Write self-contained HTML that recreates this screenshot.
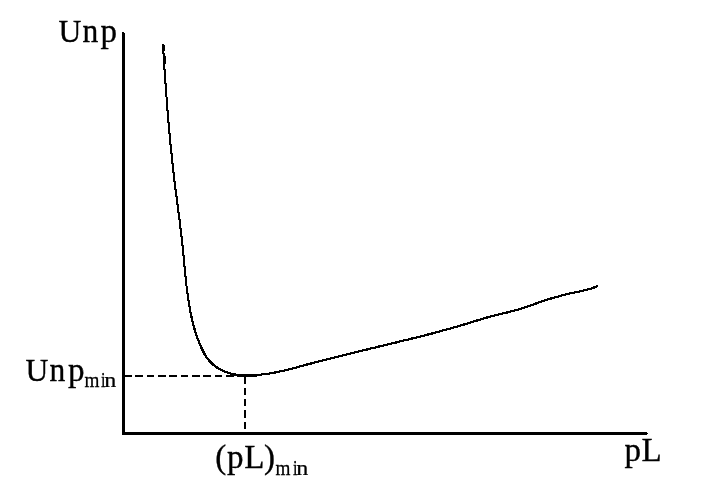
<!DOCTYPE html>
<html><head><meta charset="utf-8">
<style>
html,body{margin:0;padding:0;background:#fff;}
body{width:702px;height:497px;overflow:hidden;position:relative;}
svg{position:absolute;left:0;top:0;will-change:transform;}
text{font-family:"Liberation Serif",serif;fill:#000;stroke:#000;stroke-width:0.35px;}
text.s{stroke-width:0.25px;}
</style></head><body>
<svg width="702" height="497" viewBox="0 0 702 497">
<rect width="702" height="497" fill="#fff"/>
<!-- axes -->
<rect x="122" y="32" width="2" height="403" fill="#000"/><rect x="124" y="33" width="1" height="402" fill="#000"/>
<rect x="122" y="432" width="525" height="3" fill="#000"/><rect x="647" y="433" width="1" height="1" fill="#000"/>
<!-- dashed -->
<path d="M124 376 H257" fill="none" stroke="#000" stroke-width="2" stroke-dasharray="7.5 3.845" shape-rendering="crispEdges"/>
<path d="M245 376.3 V432" fill="none" stroke="#000" stroke-width="2" stroke-dasharray="7.5 3.8" shape-rendering="crispEdges"/>
<!-- curve -->
<path fill="none" stroke="#000" stroke-width="1" shape-rendering="crispEdges" transform="translate(-0.5 -0.5)" d="M162.9 45.0 L163.0 46.2 L163.1 47.4 L163.2 48.6 L163.2 49.8 L163.3 51.0 L163.4 52.2 L163.5 53.5 L163.6 54.7 L163.6 55.9 L163.7 57.1 L163.8 58.3 L163.9 59.5 L163.9 60.7 L164.0 61.9 L164.1 63.1 L164.2 64.3 L164.3 65.5 L164.3 66.8 L164.4 68.0 L164.5 69.2 L164.6 70.4 L164.7 71.6 L164.7 72.8 L164.8 74.0 L164.9 75.2 L165.0 76.4 L165.1 77.6 L165.2 78.8 L165.2 80.0 L165.3 81.2 L165.4 82.5 L165.5 83.7 L165.6 84.9 L165.7 86.1 L165.8 87.3 L165.8 88.5 L165.9 89.7 L166.0 90.9 L166.1 92.1 L166.2 93.3 L166.3 94.5 L166.4 95.7 L166.5 96.9 L166.6 98.2 L166.7 99.4 L166.8 100.6 L166.8 101.8 L166.9 103.0 L167.0 104.2 L167.1 105.4 L167.2 106.6 L167.3 107.8 L167.4 109.0 L167.5 110.2 L167.6 111.4 L167.7 112.6 L167.8 113.8 L167.9 115.0 L168.0 116.2 L168.1 117.5 L168.2 118.7 L168.3 119.9 L168.4 121.1 L168.5 122.3 L168.6 123.5 L168.7 124.7 L168.8 125.9 L168.9 127.1 L169.1 128.3 L169.2 129.5 L169.3 130.7 L169.4 131.9 L169.5 133.1 L169.6 134.3 L169.7 135.5 L169.8 136.7 L169.9 137.9 L170.0 139.1 L170.2 140.3 L170.3 141.6 L170.4 142.8 L170.5 144.0 L170.6 145.2 L170.7 146.4 L170.9 147.6 L171.0 148.8 L171.1 150.0 L171.2 151.2 L171.3 152.4 L171.5 153.6 L171.6 154.8 L171.7 156.0 L171.8 157.2 L172.0 158.4 L172.1 159.6 L172.2 160.8 L172.3 162.0 L172.5 163.2 L172.6 164.4 L172.7 165.6 L172.9 166.8 L173.0 168.0 L173.1 169.2 L173.3 170.4 L173.4 171.6 L173.6 172.8 L173.7 174.1 L173.8 175.2 L174.0 176.5 L174.1 177.7 L174.2 178.9 L174.4 180.1 L174.5 181.3 L174.7 182.5 L174.8 183.7 L175.0 184.9 L175.1 186.1 L175.3 187.3 L175.4 188.5 L175.6 189.7 L175.7 190.9 L175.9 192.1 L176.0 193.3 L176.2 194.5 L176.3 195.7 L176.5 196.9 L176.7 198.1 L176.8 199.3 L177.0 200.5 L177.1 201.7 L177.3 202.9 L177.4 204.1 L177.6 205.3 L177.8 206.5 L177.9 207.7 L178.1 208.9 L178.2 210.1 L178.4 211.3 L178.5 212.5 L178.7 213.7 L178.9 214.9 L179.0 216.1 L179.2 217.3 L179.3 218.5 L179.5 219.7 L179.6 220.9 L179.8 222.1 L179.9 223.3 L180.1 224.5 L180.2 225.7 L180.4 226.9 L180.5 228.1 L180.7 229.3 L180.8 230.5 L181.0 231.7 L181.1 232.9 L181.2 234.1 L181.4 235.3 L181.5 236.5 L181.7 237.7 L181.8 238.9 L181.9 240.1 L182.1 241.3 L182.2 242.6 L182.3 243.8 L182.4 244.9 L182.6 246.2 L182.7 247.4 L182.8 248.6 L182.9 249.8 L183.1 251.0 L183.2 252.2 L183.3 253.4 L183.4 254.6 L183.5 255.8 L183.6 257.0 L183.7 258.2 L183.8 259.4 L184.0 260.6 L184.1 261.8 L184.2 263.0 L184.3 264.2 L184.4 265.4 L184.5 266.6 L184.6 267.8 L184.8 269.0 L184.9 270.2 L185.0 271.4 L185.1 272.6 L185.2 273.8 L185.3 275.0 L185.4 276.2 L185.6 277.4 L185.7 278.6 L185.8 279.8 L186.0 281.0 L186.1 282.2 L186.2 283.4 L186.4 284.6 L186.5 285.9 L186.6 287.1 L186.8 288.2 L186.9 289.5 L187.1 290.7 L187.2 291.9 L187.4 293.1 L187.6 294.3 L187.7 295.5 L187.9 296.7 L188.1 297.9 L188.2 299.1 L188.4 300.3 L188.6 301.5 L188.8 302.7 L189.0 303.9 L189.2 305.1 L189.4 306.3 L189.6 307.5 L189.8 308.7 L190.0 309.9 L190.2 311.1 L190.5 312.2 L190.7 313.4 L191.0 314.6 L191.2 315.8 L191.5 317.0 L191.7 318.2 L192.0 319.4 L192.3 320.5 L192.6 321.7 L192.9 322.9 L193.2 324.1 L193.5 325.2 L193.8 326.4 L194.1 327.6 L194.4 328.7 L194.8 329.9 L195.1 331.1 L195.5 332.2 L195.9 333.4 L196.2 334.5 L196.6 335.6 L197.0 336.8 L197.4 337.9 L197.8 339.1 L198.3 340.2 L198.7 341.3 L199.1 342.4 L199.6 343.6 L200.1 344.7 L200.5 345.8 L201.0 346.9 L201.5 348.0 L202.0 349.1 L202.6 350.2 L203.1 351.2 L203.6 352.3 L204.2 353.4 L204.8 354.4 L205.4 355.4 L206.1 356.5 L206.7 357.5 L207.4 358.4 L208.2 359.4 L208.9 360.3 L209.7 361.2 L210.6 362.1 L211.4 363.0 L212.3 363.8 L213.2 364.6 L214.1 365.4 L215.1 366.1 L216.0 366.9 L217.0 367.5 L218.0 368.2 L219.1 368.8 L220.1 369.4 L221.2 370.0 L222.3 370.5 L223.4 371.1 L224.5 371.5 L225.6 372.0 L226.8 372.4 L227.9 372.8 L229.1 373.2 L230.2 373.5 L231.4 373.8 L232.6 374.1 L233.8 374.3 L235.0 374.5 L236.2 374.7 L237.3 374.9 L238.6 375.0 L239.7 375.1 L240.9 375.2 L242.2 375.3 L243.3 375.3 L244.6 375.4 L245.8 375.4 L247.0 375.4 L248.2 375.4 L249.4 375.3 L250.6 375.3 L251.8 375.2 L253.0 375.2 L254.2 375.1 L255.4 375.0 L256.6 374.9 L257.9 374.8 L259.1 374.7 L260.3 374.6 L261.5 374.5 L262.7 374.4 L263.9 374.2 L265.1 374.1 L266.3 373.9 L267.5 373.8 L268.7 373.6 L269.9 373.4 L271.1 373.2 L272.3 373.0 L273.4 372.8 L274.6 372.6 L275.8 372.3 L277.0 372.1 L278.2 371.9 L279.4 371.6 L280.6 371.4 L281.7 371.1 L282.9 370.8 L284.1 370.6 L285.3 370.3 L286.4 370.0 L287.6 369.7 L288.8 369.4 L290.0 369.1 L291.1 368.8 L292.3 368.5 L293.5 368.2 L294.6 367.9 L295.8 367.6 L297.0 367.2 L298.1 366.9 L299.3 366.6 L300.5 366.3 L301.7 366.0 L302.8 365.7 L304.0 365.4 L305.2 365.0 L306.3 364.7 L307.5 364.4 L308.7 364.1 L309.8 363.8 L311.0 363.5 L312.2 363.2 L313.4 362.9 L314.5 362.6 L315.7 362.2 L316.9 361.9 L318.0 361.6 L319.2 361.3 L320.4 361.0 L321.6 360.7 L322.7 360.4 L323.9 360.1 L325.1 359.8 L326.2 359.5 L327.4 359.2 L328.6 358.9 L329.8 358.6 L330.9 358.4 L332.1 358.1 L333.3 357.8 L334.5 357.5 L335.6 357.2 L336.8 356.9 L338.0 356.6 L339.1 356.3 L340.3 356.0 L341.5 355.7 L342.7 355.4 L343.9 355.1 L345.0 354.8 L346.2 354.5 L347.4 354.2 L348.6 354.0 L349.7 353.7 L350.9 353.4 L352.1 353.1 L353.2 352.8 L354.4 352.5 L355.6 352.2 L356.8 351.9 L358.0 351.7 L359.1 351.4 L360.3 351.1 L361.5 350.8 L362.7 350.5 L363.8 350.2 L365.0 349.9 L366.2 349.7 L367.4 349.4 L368.5 349.1 L369.7 348.8 L370.9 348.5 L372.1 348.2 L373.2 348.0 L374.4 347.7 L375.6 347.4 L376.8 347.1 L377.9 346.8 L379.1 346.5 L380.3 346.3 L381.5 346.0 L382.7 345.7 L383.8 345.4 L385.0 345.1 L386.2 344.8 L387.4 344.6 L388.5 344.3 L389.7 344.0 L390.9 343.7 L392.1 343.4 L393.2 343.1 L394.4 342.8 L395.6 342.6 L396.8 342.3 L397.9 342.0 L399.1 341.7 L400.3 341.4 L401.5 341.1 L402.7 340.8 L403.8 340.5 L405.0 340.3 L406.2 340.0 L407.4 339.7 L408.5 339.4 L409.7 339.1 L410.9 338.8 L412.1 338.5 L413.2 338.2 L414.4 337.9 L415.6 337.6 L416.8 337.4 L417.9 337.1 L419.1 336.8 L420.3 336.5 L421.5 336.2 L422.6 335.9 L423.8 335.6 L425.0 335.3 L426.1 335.0 L427.3 334.7 L428.5 334.4 L429.7 334.1 L430.8 333.8 L432.0 333.5 L433.2 333.1 L434.4 332.8 L435.5 332.5 L436.7 332.2 L437.9 331.9 L439.0 331.6 L440.2 331.3 L441.4 331.0 L442.5 330.6 L443.7 330.3 L444.9 330.0 L446.0 329.7 L447.2 329.4 L448.4 329.1 L449.5 328.7 L450.7 328.4 L451.9 328.1 L453.0 327.7 L454.2 327.4 L455.4 327.1 L456.5 326.7 L457.7 326.4 L458.8 326.1 L460.0 325.7 L461.2 325.4 L462.3 325.0 L463.5 324.7 L464.6 324.3 L465.8 324.0 L467.0 323.6 L468.1 323.2 L469.3 322.9 L470.4 322.5 L471.6 322.2 L472.7 321.8 L473.9 321.4 L475.1 321.1 L476.2 320.7 L477.4 320.4 L478.5 320.0 L479.7 319.7 L480.8 319.3 L482.0 319.0 L483.1 318.6 L484.3 318.3 L485.5 317.9 L486.6 317.6 L487.8 317.3 L489.0 316.9 L490.1 316.6 L491.3 316.3 L492.5 316.0 L493.6 315.7 L494.8 315.4 L496.0 315.1 L497.2 314.8 L498.3 314.5 L499.5 314.2 L500.7 314.0 L501.9 313.7 L503.1 313.4 L504.2 313.1 L505.4 312.9 L506.6 312.6 L507.8 312.3 L508.9 312.0 L510.1 311.7 L511.3 311.4 L512.5 311.1 L513.6 310.8 L514.8 310.5 L516.0 310.2 L517.1 309.8 L518.3 309.5 L519.5 309.2 L520.6 308.8 L521.8 308.4 L522.9 308.1 L524.1 307.7 L525.2 307.3 L526.4 306.9 L527.5 306.5 L528.6 306.1 L529.8 305.7 L530.9 305.3 L532.1 304.9 L533.2 304.5 L534.4 304.1 L535.5 303.7 L536.6 303.3 L537.8 302.9 L538.9 302.5 L540.1 302.1 L541.2 301.7 L542.4 301.3 L543.5 300.9 L544.6 300.5 L545.8 300.1 L547.0 299.8 L548.1 299.4 L549.2 299.0 L550.4 298.7 L551.6 298.3 L552.7 298.0 L553.9 297.6 L555.0 297.3 L556.2 297.0 L557.4 296.7 L558.5 296.4 L559.7 296.0 L560.9 295.7 L562.1 295.4 L563.2 295.1 L564.4 294.8 L565.6 294.5 L566.8 294.3 L567.9 294.0 L569.1 293.7 L570.3 293.4 L571.5 293.2 L572.7 292.9 L573.9 292.6 L575.0 292.4 L576.2 292.1 L577.4 291.9 L578.6 291.6 L579.8 291.4 L581.0 291.1 L582.1 290.9 L583.3 290.6 L584.5 290.3 L585.7 290.0 L586.8 289.7 L588.0 289.4 L589.2 289.1 L590.3 288.7 L591.5 288.4 L592.6 288.0 L593.7 287.6 L594.9 287.1 L596.0 286.6 L597.1 286.1"/>
<path fill="none" stroke="#000" stroke-width="1" shape-rendering="crispEdges" transform="translate(0.5 -0.5)" d="M162.9 45.0 L163.0 46.2 L163.1 47.4 L163.2 48.6 L163.2 49.8 L163.3 51.0 L163.4 52.2 L163.5 53.5 L163.6 54.7 L163.6 55.9 L163.7 57.1 L163.8 58.3 L163.9 59.5 L163.9 60.7 L164.0 61.9 L164.1 63.1 L164.2 64.3 L164.3 65.5 L164.3 66.8 L164.4 68.0 L164.5 69.2 L164.6 70.4 L164.7 71.6 L164.7 72.8 L164.8 74.0 L164.9 75.2 L165.0 76.4 L165.1 77.6 L165.2 78.8 L165.2 80.0 L165.3 81.2 L165.4 82.5 L165.5 83.7 L165.6 84.9 L165.7 86.1 L165.8 87.3 L165.8 88.5 L165.9 89.7 L166.0 90.9 L166.1 92.1 L166.2 93.3 L166.3 94.5 L166.4 95.7 L166.5 96.9 L166.6 98.2 L166.7 99.4 L166.8 100.6 L166.8 101.8 L166.9 103.0 L167.0 104.2 L167.1 105.4 L167.2 106.6 L167.3 107.8 L167.4 109.0 L167.5 110.2 L167.6 111.4 L167.7 112.6 L167.8 113.8 L167.9 115.0 L168.0 116.2 L168.1 117.5 L168.2 118.7 L168.3 119.9 L168.4 121.1 L168.5 122.3 L168.6 123.5 L168.7 124.7 L168.8 125.9 L168.9 127.1 L169.1 128.3 L169.2 129.5 L169.3 130.7 L169.4 131.9 L169.5 133.1 L169.6 134.3 L169.7 135.5 L169.8 136.7 L169.9 137.9 L170.0 139.1 L170.2 140.3 L170.3 141.6 L170.4 142.8 L170.5 144.0 L170.6 145.2 L170.7 146.4 L170.9 147.6 L171.0 148.8 L171.1 150.0 L171.2 151.2 L171.3 152.4 L171.5 153.6 L171.6 154.8 L171.7 156.0 L171.8 157.2 L172.0 158.4 L172.1 159.6 L172.2 160.8 L172.3 162.0 L172.5 163.2 L172.6 164.4 L172.7 165.6 L172.9 166.8 L173.0 168.0 L173.1 169.2 L173.3 170.4 L173.4 171.6 L173.6 172.8 L173.7 174.1 L173.8 175.2 L174.0 176.5 L174.1 177.7 L174.2 178.9 L174.4 180.1 L174.5 181.3 L174.7 182.5 L174.8 183.7 L175.0 184.9 L175.1 186.1 L175.3 187.3 L175.4 188.5 L175.6 189.7 L175.7 190.9 L175.9 192.1 L176.0 193.3 L176.2 194.5 L176.3 195.7 L176.5 196.9 L176.7 198.1 L176.8 199.3 L177.0 200.5 L177.1 201.7 L177.3 202.9 L177.4 204.1 L177.6 205.3 L177.8 206.5 L177.9 207.7 L178.1 208.9 L178.2 210.1 L178.4 211.3 L178.5 212.5 L178.7 213.7 L178.9 214.9 L179.0 216.1 L179.2 217.3 L179.3 218.5 L179.5 219.7 L179.6 220.9 L179.8 222.1 L179.9 223.3 L180.1 224.5 L180.2 225.7 L180.4 226.9 L180.5 228.1 L180.7 229.3 L180.8 230.5 L181.0 231.7 L181.1 232.9 L181.2 234.1 L181.4 235.3 L181.5 236.5 L181.7 237.7 L181.8 238.9 L181.9 240.1 L182.1 241.3 L182.2 242.6 L182.3 243.8 L182.4 244.9 L182.6 246.2 L182.7 247.4 L182.8 248.6 L182.9 249.8 L183.1 251.0 L183.2 252.2 L183.3 253.4 L183.4 254.6 L183.5 255.8 L183.6 257.0 L183.7 258.2 L183.8 259.4 L184.0 260.6 L184.1 261.8 L184.2 263.0 L184.3 264.2 L184.4 265.4 L184.5 266.6 L184.6 267.8 L184.8 269.0 L184.9 270.2 L185.0 271.4 L185.1 272.6 L185.2 273.8 L185.3 275.0 L185.4 276.2 L185.6 277.4 L185.7 278.6 L185.8 279.8 L186.0 281.0 L186.1 282.2 L186.2 283.4 L186.4 284.6 L186.5 285.9 L186.6 287.1 L186.8 288.2 L186.9 289.5 L187.1 290.7 L187.2 291.9 L187.4 293.1 L187.6 294.3 L187.7 295.5 L187.9 296.7 L188.1 297.9 L188.2 299.1 L188.4 300.3 L188.6 301.5 L188.8 302.7 L189.0 303.9 L189.2 305.1 L189.4 306.3 L189.6 307.5 L189.8 308.7 L190.0 309.9 L190.2 311.1 L190.5 312.2 L190.7 313.4 L191.0 314.6 L191.2 315.8 L191.5 317.0 L191.7 318.2 L192.0 319.4 L192.3 320.5 L192.6 321.7 L192.9 322.9 L193.2 324.1 L193.5 325.2 L193.8 326.4 L194.1 327.6 L194.4 328.7 L194.8 329.9 L195.1 331.1 L195.5 332.2 L195.9 333.4 L196.2 334.5 L196.6 335.6 L197.0 336.8 L197.4 337.9 L197.8 339.1 L198.3 340.2 L198.7 341.3 L199.1 342.4 L199.6 343.6 L200.1 344.7 L200.5 345.8 L201.0 346.9 L201.5 348.0 L202.0 349.1 L202.6 350.2 L203.1 351.2 L203.6 352.3 L204.2 353.4 L204.8 354.4 L205.4 355.4 L206.1 356.5 L206.7 357.5 L207.4 358.4 L208.2 359.4 L208.9 360.3 L209.7 361.2 L210.6 362.1 L211.4 363.0 L212.3 363.8 L213.2 364.6 L214.1 365.4 L215.1 366.1 L216.0 366.9 L217.0 367.5 L218.0 368.2 L219.1 368.8 L220.1 369.4 L221.2 370.0 L222.3 370.5 L223.4 371.1 L224.5 371.5 L225.6 372.0 L226.8 372.4 L227.9 372.8 L229.1 373.2 L230.2 373.5 L231.4 373.8 L232.6 374.1 L233.8 374.3 L235.0 374.5 L236.2 374.7 L237.3 374.9 L238.6 375.0 L239.7 375.1 L240.9 375.2 L242.2 375.3 L243.3 375.3 L244.6 375.4 L245.8 375.4 L247.0 375.4 L248.2 375.4 L249.4 375.3 L250.6 375.3 L251.8 375.2 L253.0 375.2 L254.2 375.1 L255.4 375.0 L256.6 374.9 L257.9 374.8 L259.1 374.7 L260.3 374.6 L261.5 374.5 L262.7 374.4 L263.9 374.2 L265.1 374.1 L266.3 373.9 L267.5 373.8 L268.7 373.6 L269.9 373.4 L271.1 373.2 L272.3 373.0 L273.4 372.8 L274.6 372.6 L275.8 372.3 L277.0 372.1 L278.2 371.9 L279.4 371.6 L280.6 371.4 L281.7 371.1 L282.9 370.8 L284.1 370.6 L285.3 370.3 L286.4 370.0 L287.6 369.7 L288.8 369.4 L290.0 369.1 L291.1 368.8 L292.3 368.5 L293.5 368.2 L294.6 367.9 L295.8 367.6 L297.0 367.2 L298.1 366.9 L299.3 366.6 L300.5 366.3 L301.7 366.0 L302.8 365.7 L304.0 365.4 L305.2 365.0 L306.3 364.7 L307.5 364.4 L308.7 364.1 L309.8 363.8 L311.0 363.5 L312.2 363.2 L313.4 362.9 L314.5 362.6 L315.7 362.2 L316.9 361.9 L318.0 361.6 L319.2 361.3 L320.4 361.0 L321.6 360.7 L322.7 360.4 L323.9 360.1 L325.1 359.8 L326.2 359.5 L327.4 359.2 L328.6 358.9 L329.8 358.6 L330.9 358.4 L332.1 358.1 L333.3 357.8 L334.5 357.5 L335.6 357.2 L336.8 356.9 L338.0 356.6 L339.1 356.3 L340.3 356.0 L341.5 355.7 L342.7 355.4 L343.9 355.1 L345.0 354.8 L346.2 354.5 L347.4 354.2 L348.6 354.0 L349.7 353.7 L350.9 353.4 L352.1 353.1 L353.2 352.8 L354.4 352.5 L355.6 352.2 L356.8 351.9 L358.0 351.7 L359.1 351.4 L360.3 351.1 L361.5 350.8 L362.7 350.5 L363.8 350.2 L365.0 349.9 L366.2 349.7 L367.4 349.4 L368.5 349.1 L369.7 348.8 L370.9 348.5 L372.1 348.2 L373.2 348.0 L374.4 347.7 L375.6 347.4 L376.8 347.1 L377.9 346.8 L379.1 346.5 L380.3 346.3 L381.5 346.0 L382.7 345.7 L383.8 345.4 L385.0 345.1 L386.2 344.8 L387.4 344.6 L388.5 344.3 L389.7 344.0 L390.9 343.7 L392.1 343.4 L393.2 343.1 L394.4 342.8 L395.6 342.6 L396.8 342.3 L397.9 342.0 L399.1 341.7 L400.3 341.4 L401.5 341.1 L402.7 340.8 L403.8 340.5 L405.0 340.3 L406.2 340.0 L407.4 339.7 L408.5 339.4 L409.7 339.1 L410.9 338.8 L412.1 338.5 L413.2 338.2 L414.4 337.9 L415.6 337.6 L416.8 337.4 L417.9 337.1 L419.1 336.8 L420.3 336.5 L421.5 336.2 L422.6 335.9 L423.8 335.6 L425.0 335.3 L426.1 335.0 L427.3 334.7 L428.5 334.4 L429.7 334.1 L430.8 333.8 L432.0 333.5 L433.2 333.1 L434.4 332.8 L435.5 332.5 L436.7 332.2 L437.9 331.9 L439.0 331.6 L440.2 331.3 L441.4 331.0 L442.5 330.6 L443.7 330.3 L444.9 330.0 L446.0 329.7 L447.2 329.4 L448.4 329.1 L449.5 328.7 L450.7 328.4 L451.9 328.1 L453.0 327.7 L454.2 327.4 L455.4 327.1 L456.5 326.7 L457.7 326.4 L458.8 326.1 L460.0 325.7 L461.2 325.4 L462.3 325.0 L463.5 324.7 L464.6 324.3 L465.8 324.0 L467.0 323.6 L468.1 323.2 L469.3 322.9 L470.4 322.5 L471.6 322.2 L472.7 321.8 L473.9 321.4 L475.1 321.1 L476.2 320.7 L477.4 320.4 L478.5 320.0 L479.7 319.7 L480.8 319.3 L482.0 319.0 L483.1 318.6 L484.3 318.3 L485.5 317.9 L486.6 317.6 L487.8 317.3 L489.0 316.9 L490.1 316.6 L491.3 316.3 L492.5 316.0 L493.6 315.7 L494.8 315.4 L496.0 315.1 L497.2 314.8 L498.3 314.5 L499.5 314.2 L500.7 314.0 L501.9 313.7 L503.1 313.4 L504.2 313.1 L505.4 312.9 L506.6 312.6 L507.8 312.3 L508.9 312.0 L510.1 311.7 L511.3 311.4 L512.5 311.1 L513.6 310.8 L514.8 310.5 L516.0 310.2 L517.1 309.8 L518.3 309.5 L519.5 309.2 L520.6 308.8 L521.8 308.4 L522.9 308.1 L524.1 307.7 L525.2 307.3 L526.4 306.9 L527.5 306.5 L528.6 306.1 L529.8 305.7 L530.9 305.3 L532.1 304.9 L533.2 304.5 L534.4 304.1 L535.5 303.7 L536.6 303.3 L537.8 302.9 L538.9 302.5 L540.1 302.1 L541.2 301.7 L542.4 301.3 L543.5 300.9 L544.6 300.5 L545.8 300.1 L547.0 299.8 L548.1 299.4 L549.2 299.0 L550.4 298.7 L551.6 298.3 L552.7 298.0 L553.9 297.6 L555.0 297.3 L556.2 297.0 L557.4 296.7 L558.5 296.4 L559.7 296.0 L560.9 295.7 L562.1 295.4 L563.2 295.1 L564.4 294.8 L565.6 294.5 L566.8 294.3 L567.9 294.0 L569.1 293.7 L570.3 293.4 L571.5 293.2 L572.7 292.9 L573.9 292.6 L575.0 292.4 L576.2 292.1 L577.4 291.9 L578.6 291.6 L579.8 291.4 L581.0 291.1 L582.1 290.9 L583.3 290.6 L584.5 290.3 L585.7 290.0 L586.8 289.7 L588.0 289.4 L589.2 289.1 L590.3 288.7 L591.5 288.4 L592.6 288.0 L593.7 287.6 L594.9 287.1 L596.0 286.6 L597.1 286.1"/>
<path fill="none" stroke="#000" stroke-width="1" shape-rendering="crispEdges" transform="translate(-0.5 0.5)" d="M162.9 45.0 L163.0 46.2 L163.1 47.4 L163.2 48.6 L163.2 49.8 L163.3 51.0 L163.4 52.2 L163.5 53.5 L163.6 54.7 L163.6 55.9 L163.7 57.1 L163.8 58.3 L163.9 59.5 L163.9 60.7 L164.0 61.9 L164.1 63.1 L164.2 64.3 L164.3 65.5 L164.3 66.8 L164.4 68.0 L164.5 69.2 L164.6 70.4 L164.7 71.6 L164.7 72.8 L164.8 74.0 L164.9 75.2 L165.0 76.4 L165.1 77.6 L165.2 78.8 L165.2 80.0 L165.3 81.2 L165.4 82.5 L165.5 83.7 L165.6 84.9 L165.7 86.1 L165.8 87.3 L165.8 88.5 L165.9 89.7 L166.0 90.9 L166.1 92.1 L166.2 93.3 L166.3 94.5 L166.4 95.7 L166.5 96.9 L166.6 98.2 L166.7 99.4 L166.8 100.6 L166.8 101.8 L166.9 103.0 L167.0 104.2 L167.1 105.4 L167.2 106.6 L167.3 107.8 L167.4 109.0 L167.5 110.2 L167.6 111.4 L167.7 112.6 L167.8 113.8 L167.9 115.0 L168.0 116.2 L168.1 117.5 L168.2 118.7 L168.3 119.9 L168.4 121.1 L168.5 122.3 L168.6 123.5 L168.7 124.7 L168.8 125.9 L168.9 127.1 L169.1 128.3 L169.2 129.5 L169.3 130.7 L169.4 131.9 L169.5 133.1 L169.6 134.3 L169.7 135.5 L169.8 136.7 L169.9 137.9 L170.0 139.1 L170.2 140.3 L170.3 141.6 L170.4 142.8 L170.5 144.0 L170.6 145.2 L170.7 146.4 L170.9 147.6 L171.0 148.8 L171.1 150.0 L171.2 151.2 L171.3 152.4 L171.5 153.6 L171.6 154.8 L171.7 156.0 L171.8 157.2 L172.0 158.4 L172.1 159.6 L172.2 160.8 L172.3 162.0 L172.5 163.2 L172.6 164.4 L172.7 165.6 L172.9 166.8 L173.0 168.0 L173.1 169.2 L173.3 170.4 L173.4 171.6 L173.6 172.8 L173.7 174.1 L173.8 175.2 L174.0 176.5 L174.1 177.7 L174.2 178.9 L174.4 180.1 L174.5 181.3 L174.7 182.5 L174.8 183.7 L175.0 184.9 L175.1 186.1 L175.3 187.3 L175.4 188.5 L175.6 189.7 L175.7 190.9 L175.9 192.1 L176.0 193.3 L176.2 194.5 L176.3 195.7 L176.5 196.9 L176.7 198.1 L176.8 199.3 L177.0 200.5 L177.1 201.7 L177.3 202.9 L177.4 204.1 L177.6 205.3 L177.8 206.5 L177.9 207.7 L178.1 208.9 L178.2 210.1 L178.4 211.3 L178.5 212.5 L178.7 213.7 L178.9 214.9 L179.0 216.1 L179.2 217.3 L179.3 218.5 L179.5 219.7 L179.6 220.9 L179.8 222.1 L179.9 223.3 L180.1 224.5 L180.2 225.7 L180.4 226.9 L180.5 228.1 L180.7 229.3 L180.8 230.5 L181.0 231.7 L181.1 232.9 L181.2 234.1 L181.4 235.3 L181.5 236.5 L181.7 237.7 L181.8 238.9 L181.9 240.1 L182.1 241.3 L182.2 242.6 L182.3 243.8 L182.4 244.9 L182.6 246.2 L182.7 247.4 L182.8 248.6 L182.9 249.8 L183.1 251.0 L183.2 252.2 L183.3 253.4 L183.4 254.6 L183.5 255.8 L183.6 257.0 L183.7 258.2 L183.8 259.4 L184.0 260.6 L184.1 261.8 L184.2 263.0 L184.3 264.2 L184.4 265.4 L184.5 266.6 L184.6 267.8 L184.8 269.0 L184.9 270.2 L185.0 271.4 L185.1 272.6 L185.2 273.8 L185.3 275.0 L185.4 276.2 L185.6 277.4 L185.7 278.6 L185.8 279.8 L186.0 281.0 L186.1 282.2 L186.2 283.4 L186.4 284.6 L186.5 285.9 L186.6 287.1 L186.8 288.2 L186.9 289.5 L187.1 290.7 L187.2 291.9 L187.4 293.1 L187.6 294.3 L187.7 295.5 L187.9 296.7 L188.1 297.9 L188.2 299.1 L188.4 300.3 L188.6 301.5 L188.8 302.7 L189.0 303.9 L189.2 305.1 L189.4 306.3 L189.6 307.5 L189.8 308.7 L190.0 309.9 L190.2 311.1 L190.5 312.2 L190.7 313.4 L191.0 314.6 L191.2 315.8 L191.5 317.0 L191.7 318.2 L192.0 319.4 L192.3 320.5 L192.6 321.7 L192.9 322.9 L193.2 324.1 L193.5 325.2 L193.8 326.4 L194.1 327.6 L194.4 328.7 L194.8 329.9 L195.1 331.1 L195.5 332.2 L195.9 333.4 L196.2 334.5 L196.6 335.6 L197.0 336.8 L197.4 337.9 L197.8 339.1 L198.3 340.2 L198.7 341.3 L199.1 342.4 L199.6 343.6 L200.1 344.7 L200.5 345.8 L201.0 346.9 L201.5 348.0 L202.0 349.1 L202.6 350.2 L203.1 351.2 L203.6 352.3 L204.2 353.4 L204.8 354.4 L205.4 355.4 L206.1 356.5 L206.7 357.5 L207.4 358.4 L208.2 359.4 L208.9 360.3 L209.7 361.2 L210.6 362.1 L211.4 363.0 L212.3 363.8 L213.2 364.6 L214.1 365.4 L215.1 366.1 L216.0 366.9 L217.0 367.5 L218.0 368.2 L219.1 368.8 L220.1 369.4 L221.2 370.0 L222.3 370.5 L223.4 371.1 L224.5 371.5 L225.6 372.0 L226.8 372.4 L227.9 372.8 L229.1 373.2 L230.2 373.5 L231.4 373.8 L232.6 374.1 L233.8 374.3 L235.0 374.5 L236.2 374.7 L237.3 374.9 L238.6 375.0 L239.7 375.1 L240.9 375.2 L242.2 375.3 L243.3 375.3 L244.6 375.4 L245.8 375.4 L247.0 375.4 L248.2 375.4 L249.4 375.3 L250.6 375.3 L251.8 375.2 L253.0 375.2 L254.2 375.1 L255.4 375.0 L256.6 374.9 L257.9 374.8 L259.1 374.7 L260.3 374.6 L261.5 374.5 L262.7 374.4 L263.9 374.2 L265.1 374.1 L266.3 373.9 L267.5 373.8 L268.7 373.6 L269.9 373.4 L271.1 373.2 L272.3 373.0 L273.4 372.8 L274.6 372.6 L275.8 372.3 L277.0 372.1 L278.2 371.9 L279.4 371.6 L280.6 371.4 L281.7 371.1 L282.9 370.8 L284.1 370.6 L285.3 370.3 L286.4 370.0 L287.6 369.7 L288.8 369.4 L290.0 369.1 L291.1 368.8 L292.3 368.5 L293.5 368.2 L294.6 367.9 L295.8 367.6 L297.0 367.2 L298.1 366.9 L299.3 366.6 L300.5 366.3 L301.7 366.0 L302.8 365.7 L304.0 365.4 L305.2 365.0 L306.3 364.7 L307.5 364.4 L308.7 364.1 L309.8 363.8 L311.0 363.5 L312.2 363.2 L313.4 362.9 L314.5 362.6 L315.7 362.2 L316.9 361.9 L318.0 361.6 L319.2 361.3 L320.4 361.0 L321.6 360.7 L322.7 360.4 L323.9 360.1 L325.1 359.8 L326.2 359.5 L327.4 359.2 L328.6 358.9 L329.8 358.6 L330.9 358.4 L332.1 358.1 L333.3 357.8 L334.5 357.5 L335.6 357.2 L336.8 356.9 L338.0 356.6 L339.1 356.3 L340.3 356.0 L341.5 355.7 L342.7 355.4 L343.9 355.1 L345.0 354.8 L346.2 354.5 L347.4 354.2 L348.6 354.0 L349.7 353.7 L350.9 353.4 L352.1 353.1 L353.2 352.8 L354.4 352.5 L355.6 352.2 L356.8 351.9 L358.0 351.7 L359.1 351.4 L360.3 351.1 L361.5 350.8 L362.7 350.5 L363.8 350.2 L365.0 349.9 L366.2 349.7 L367.4 349.4 L368.5 349.1 L369.7 348.8 L370.9 348.5 L372.1 348.2 L373.2 348.0 L374.4 347.7 L375.6 347.4 L376.8 347.1 L377.9 346.8 L379.1 346.5 L380.3 346.3 L381.5 346.0 L382.7 345.7 L383.8 345.4 L385.0 345.1 L386.2 344.8 L387.4 344.6 L388.5 344.3 L389.7 344.0 L390.9 343.7 L392.1 343.4 L393.2 343.1 L394.4 342.8 L395.6 342.6 L396.8 342.3 L397.9 342.0 L399.1 341.7 L400.3 341.4 L401.5 341.1 L402.7 340.8 L403.8 340.5 L405.0 340.3 L406.2 340.0 L407.4 339.7 L408.5 339.4 L409.7 339.1 L410.9 338.8 L412.1 338.5 L413.2 338.2 L414.4 337.9 L415.6 337.6 L416.8 337.4 L417.9 337.1 L419.1 336.8 L420.3 336.5 L421.5 336.2 L422.6 335.9 L423.8 335.6 L425.0 335.3 L426.1 335.0 L427.3 334.7 L428.5 334.4 L429.7 334.1 L430.8 333.8 L432.0 333.5 L433.2 333.1 L434.4 332.8 L435.5 332.5 L436.7 332.2 L437.9 331.9 L439.0 331.6 L440.2 331.3 L441.4 331.0 L442.5 330.6 L443.7 330.3 L444.9 330.0 L446.0 329.7 L447.2 329.4 L448.4 329.1 L449.5 328.7 L450.7 328.4 L451.9 328.1 L453.0 327.7 L454.2 327.4 L455.4 327.1 L456.5 326.7 L457.7 326.4 L458.8 326.1 L460.0 325.7 L461.2 325.4 L462.3 325.0 L463.5 324.7 L464.6 324.3 L465.8 324.0 L467.0 323.6 L468.1 323.2 L469.3 322.9 L470.4 322.5 L471.6 322.2 L472.7 321.8 L473.9 321.4 L475.1 321.1 L476.2 320.7 L477.4 320.4 L478.5 320.0 L479.7 319.7 L480.8 319.3 L482.0 319.0 L483.1 318.6 L484.3 318.3 L485.5 317.9 L486.6 317.6 L487.8 317.3 L489.0 316.9 L490.1 316.6 L491.3 316.3 L492.5 316.0 L493.6 315.7 L494.8 315.4 L496.0 315.1 L497.2 314.8 L498.3 314.5 L499.5 314.2 L500.7 314.0 L501.9 313.7 L503.1 313.4 L504.2 313.1 L505.4 312.9 L506.6 312.6 L507.8 312.3 L508.9 312.0 L510.1 311.7 L511.3 311.4 L512.5 311.1 L513.6 310.8 L514.8 310.5 L516.0 310.2 L517.1 309.8 L518.3 309.5 L519.5 309.2 L520.6 308.8 L521.8 308.4 L522.9 308.1 L524.1 307.7 L525.2 307.3 L526.4 306.9 L527.5 306.5 L528.6 306.1 L529.8 305.7 L530.9 305.3 L532.1 304.9 L533.2 304.5 L534.4 304.1 L535.5 303.7 L536.6 303.3 L537.8 302.9 L538.9 302.5 L540.1 302.1 L541.2 301.7 L542.4 301.3 L543.5 300.9 L544.6 300.5 L545.8 300.1 L547.0 299.8 L548.1 299.4 L549.2 299.0 L550.4 298.7 L551.6 298.3 L552.7 298.0 L553.9 297.6 L555.0 297.3 L556.2 297.0 L557.4 296.7 L558.5 296.4 L559.7 296.0 L560.9 295.7 L562.1 295.4 L563.2 295.1 L564.4 294.8 L565.6 294.5 L566.8 294.3 L567.9 294.0 L569.1 293.7 L570.3 293.4 L571.5 293.2 L572.7 292.9 L573.9 292.6 L575.0 292.4 L576.2 292.1 L577.4 291.9 L578.6 291.6 L579.8 291.4 L581.0 291.1 L582.1 290.9 L583.3 290.6 L584.5 290.3 L585.7 290.0 L586.8 289.7 L588.0 289.4 L589.2 289.1 L590.3 288.7 L591.5 288.4 L592.6 288.0 L593.7 287.6 L594.9 287.1 L596.0 286.6 L597.1 286.1"/>
<path fill="none" stroke="#000" stroke-width="1" shape-rendering="crispEdges" transform="translate(0.5 0.5)" d="M162.9 45.0 L163.0 46.2 L163.1 47.4 L163.2 48.6 L163.2 49.8 L163.3 51.0 L163.4 52.2 L163.5 53.5 L163.6 54.7 L163.6 55.9 L163.7 57.1 L163.8 58.3 L163.9 59.5 L163.9 60.7 L164.0 61.9 L164.1 63.1 L164.2 64.3 L164.3 65.5 L164.3 66.8 L164.4 68.0 L164.5 69.2 L164.6 70.4 L164.7 71.6 L164.7 72.8 L164.8 74.0 L164.9 75.2 L165.0 76.4 L165.1 77.6 L165.2 78.8 L165.2 80.0 L165.3 81.2 L165.4 82.5 L165.5 83.7 L165.6 84.9 L165.7 86.1 L165.8 87.3 L165.8 88.5 L165.9 89.7 L166.0 90.9 L166.1 92.1 L166.2 93.3 L166.3 94.5 L166.4 95.7 L166.5 96.9 L166.6 98.2 L166.7 99.4 L166.8 100.6 L166.8 101.8 L166.9 103.0 L167.0 104.2 L167.1 105.4 L167.2 106.6 L167.3 107.8 L167.4 109.0 L167.5 110.2 L167.6 111.4 L167.7 112.6 L167.8 113.8 L167.9 115.0 L168.0 116.2 L168.1 117.5 L168.2 118.7 L168.3 119.9 L168.4 121.1 L168.5 122.3 L168.6 123.5 L168.7 124.7 L168.8 125.9 L168.9 127.1 L169.1 128.3 L169.2 129.5 L169.3 130.7 L169.4 131.9 L169.5 133.1 L169.6 134.3 L169.7 135.5 L169.8 136.7 L169.9 137.9 L170.0 139.1 L170.2 140.3 L170.3 141.6 L170.4 142.8 L170.5 144.0 L170.6 145.2 L170.7 146.4 L170.9 147.6 L171.0 148.8 L171.1 150.0 L171.2 151.2 L171.3 152.4 L171.5 153.6 L171.6 154.8 L171.7 156.0 L171.8 157.2 L172.0 158.4 L172.1 159.6 L172.2 160.8 L172.3 162.0 L172.5 163.2 L172.6 164.4 L172.7 165.6 L172.9 166.8 L173.0 168.0 L173.1 169.2 L173.3 170.4 L173.4 171.6 L173.6 172.8 L173.7 174.1 L173.8 175.2 L174.0 176.5 L174.1 177.7 L174.2 178.9 L174.4 180.1 L174.5 181.3 L174.7 182.5 L174.8 183.7 L175.0 184.9 L175.1 186.1 L175.3 187.3 L175.4 188.5 L175.6 189.7 L175.7 190.9 L175.9 192.1 L176.0 193.3 L176.2 194.5 L176.3 195.7 L176.5 196.9 L176.7 198.1 L176.8 199.3 L177.0 200.5 L177.1 201.7 L177.3 202.9 L177.4 204.1 L177.6 205.3 L177.8 206.5 L177.9 207.7 L178.1 208.9 L178.2 210.1 L178.4 211.3 L178.5 212.5 L178.7 213.7 L178.9 214.9 L179.0 216.1 L179.2 217.3 L179.3 218.5 L179.5 219.7 L179.6 220.9 L179.8 222.1 L179.9 223.3 L180.1 224.5 L180.2 225.7 L180.4 226.9 L180.5 228.1 L180.7 229.3 L180.8 230.5 L181.0 231.7 L181.1 232.9 L181.2 234.1 L181.4 235.3 L181.5 236.5 L181.7 237.7 L181.8 238.9 L181.9 240.1 L182.1 241.3 L182.2 242.6 L182.3 243.8 L182.4 244.9 L182.6 246.2 L182.7 247.4 L182.8 248.6 L182.9 249.8 L183.1 251.0 L183.2 252.2 L183.3 253.4 L183.4 254.6 L183.5 255.8 L183.6 257.0 L183.7 258.2 L183.8 259.4 L184.0 260.6 L184.1 261.8 L184.2 263.0 L184.3 264.2 L184.4 265.4 L184.5 266.6 L184.6 267.8 L184.8 269.0 L184.9 270.2 L185.0 271.4 L185.1 272.6 L185.2 273.8 L185.3 275.0 L185.4 276.2 L185.6 277.4 L185.7 278.6 L185.8 279.8 L186.0 281.0 L186.1 282.2 L186.2 283.4 L186.4 284.6 L186.5 285.9 L186.6 287.1 L186.8 288.2 L186.9 289.5 L187.1 290.7 L187.2 291.9 L187.4 293.1 L187.6 294.3 L187.7 295.5 L187.9 296.7 L188.1 297.9 L188.2 299.1 L188.4 300.3 L188.6 301.5 L188.8 302.7 L189.0 303.9 L189.2 305.1 L189.4 306.3 L189.6 307.5 L189.8 308.7 L190.0 309.9 L190.2 311.1 L190.5 312.2 L190.7 313.4 L191.0 314.6 L191.2 315.8 L191.5 317.0 L191.7 318.2 L192.0 319.4 L192.3 320.5 L192.6 321.7 L192.9 322.9 L193.2 324.1 L193.5 325.2 L193.8 326.4 L194.1 327.6 L194.4 328.7 L194.8 329.9 L195.1 331.1 L195.5 332.2 L195.9 333.4 L196.2 334.5 L196.6 335.6 L197.0 336.8 L197.4 337.9 L197.8 339.1 L198.3 340.2 L198.7 341.3 L199.1 342.4 L199.6 343.6 L200.1 344.7 L200.5 345.8 L201.0 346.9 L201.5 348.0 L202.0 349.1 L202.6 350.2 L203.1 351.2 L203.6 352.3 L204.2 353.4 L204.8 354.4 L205.4 355.4 L206.1 356.5 L206.7 357.5 L207.4 358.4 L208.2 359.4 L208.9 360.3 L209.7 361.2 L210.6 362.1 L211.4 363.0 L212.3 363.8 L213.2 364.6 L214.1 365.4 L215.1 366.1 L216.0 366.9 L217.0 367.5 L218.0 368.2 L219.1 368.8 L220.1 369.4 L221.2 370.0 L222.3 370.5 L223.4 371.1 L224.5 371.5 L225.6 372.0 L226.8 372.4 L227.9 372.8 L229.1 373.2 L230.2 373.5 L231.4 373.8 L232.6 374.1 L233.8 374.3 L235.0 374.5 L236.2 374.7 L237.3 374.9 L238.6 375.0 L239.7 375.1 L240.9 375.2 L242.2 375.3 L243.3 375.3 L244.6 375.4 L245.8 375.4 L247.0 375.4 L248.2 375.4 L249.4 375.3 L250.6 375.3 L251.8 375.2 L253.0 375.2 L254.2 375.1 L255.4 375.0 L256.6 374.9 L257.9 374.8 L259.1 374.7 L260.3 374.6 L261.5 374.5 L262.7 374.4 L263.9 374.2 L265.1 374.1 L266.3 373.9 L267.5 373.8 L268.7 373.6 L269.9 373.4 L271.1 373.2 L272.3 373.0 L273.4 372.8 L274.6 372.6 L275.8 372.3 L277.0 372.1 L278.2 371.9 L279.4 371.6 L280.6 371.4 L281.7 371.1 L282.9 370.8 L284.1 370.6 L285.3 370.3 L286.4 370.0 L287.6 369.7 L288.8 369.4 L290.0 369.1 L291.1 368.8 L292.3 368.5 L293.5 368.2 L294.6 367.9 L295.8 367.6 L297.0 367.2 L298.1 366.9 L299.3 366.6 L300.5 366.3 L301.7 366.0 L302.8 365.7 L304.0 365.4 L305.2 365.0 L306.3 364.7 L307.5 364.4 L308.7 364.1 L309.8 363.8 L311.0 363.5 L312.2 363.2 L313.4 362.9 L314.5 362.6 L315.7 362.2 L316.9 361.9 L318.0 361.6 L319.2 361.3 L320.4 361.0 L321.6 360.7 L322.7 360.4 L323.9 360.1 L325.1 359.8 L326.2 359.5 L327.4 359.2 L328.6 358.9 L329.8 358.6 L330.9 358.4 L332.1 358.1 L333.3 357.8 L334.5 357.5 L335.6 357.2 L336.8 356.9 L338.0 356.6 L339.1 356.3 L340.3 356.0 L341.5 355.7 L342.7 355.4 L343.9 355.1 L345.0 354.8 L346.2 354.5 L347.4 354.2 L348.6 354.0 L349.7 353.7 L350.9 353.4 L352.1 353.1 L353.2 352.8 L354.4 352.5 L355.6 352.2 L356.8 351.9 L358.0 351.7 L359.1 351.4 L360.3 351.1 L361.5 350.8 L362.7 350.5 L363.8 350.2 L365.0 349.9 L366.2 349.7 L367.4 349.4 L368.5 349.1 L369.7 348.8 L370.9 348.5 L372.1 348.2 L373.2 348.0 L374.4 347.7 L375.6 347.4 L376.8 347.1 L377.9 346.8 L379.1 346.5 L380.3 346.3 L381.5 346.0 L382.7 345.7 L383.8 345.4 L385.0 345.1 L386.2 344.8 L387.4 344.6 L388.5 344.3 L389.7 344.0 L390.9 343.7 L392.1 343.4 L393.2 343.1 L394.4 342.8 L395.6 342.6 L396.8 342.3 L397.9 342.0 L399.1 341.7 L400.3 341.4 L401.5 341.1 L402.7 340.8 L403.8 340.5 L405.0 340.3 L406.2 340.0 L407.4 339.7 L408.5 339.4 L409.7 339.1 L410.9 338.8 L412.1 338.5 L413.2 338.2 L414.4 337.9 L415.6 337.6 L416.8 337.4 L417.9 337.1 L419.1 336.8 L420.3 336.5 L421.5 336.2 L422.6 335.9 L423.8 335.6 L425.0 335.3 L426.1 335.0 L427.3 334.7 L428.5 334.4 L429.7 334.1 L430.8 333.8 L432.0 333.5 L433.2 333.1 L434.4 332.8 L435.5 332.5 L436.7 332.2 L437.9 331.9 L439.0 331.6 L440.2 331.3 L441.4 331.0 L442.5 330.6 L443.7 330.3 L444.9 330.0 L446.0 329.7 L447.2 329.4 L448.4 329.1 L449.5 328.7 L450.7 328.4 L451.9 328.1 L453.0 327.7 L454.2 327.4 L455.4 327.1 L456.5 326.7 L457.7 326.4 L458.8 326.1 L460.0 325.7 L461.2 325.4 L462.3 325.0 L463.5 324.7 L464.6 324.3 L465.8 324.0 L467.0 323.6 L468.1 323.2 L469.3 322.9 L470.4 322.5 L471.6 322.2 L472.7 321.8 L473.9 321.4 L475.1 321.1 L476.2 320.7 L477.4 320.4 L478.5 320.0 L479.7 319.7 L480.8 319.3 L482.0 319.0 L483.1 318.6 L484.3 318.3 L485.5 317.9 L486.6 317.6 L487.8 317.3 L489.0 316.9 L490.1 316.6 L491.3 316.3 L492.5 316.0 L493.6 315.7 L494.8 315.4 L496.0 315.1 L497.2 314.8 L498.3 314.5 L499.5 314.2 L500.7 314.0 L501.9 313.7 L503.1 313.4 L504.2 313.1 L505.4 312.9 L506.6 312.6 L507.8 312.3 L508.9 312.0 L510.1 311.7 L511.3 311.4 L512.5 311.1 L513.6 310.8 L514.8 310.5 L516.0 310.2 L517.1 309.8 L518.3 309.5 L519.5 309.2 L520.6 308.8 L521.8 308.4 L522.9 308.1 L524.1 307.7 L525.2 307.3 L526.4 306.9 L527.5 306.5 L528.6 306.1 L529.8 305.7 L530.9 305.3 L532.1 304.9 L533.2 304.5 L534.4 304.1 L535.5 303.7 L536.6 303.3 L537.8 302.9 L538.9 302.5 L540.1 302.1 L541.2 301.7 L542.4 301.3 L543.5 300.9 L544.6 300.5 L545.8 300.1 L547.0 299.8 L548.1 299.4 L549.2 299.0 L550.4 298.7 L551.6 298.3 L552.7 298.0 L553.9 297.6 L555.0 297.3 L556.2 297.0 L557.4 296.7 L558.5 296.4 L559.7 296.0 L560.9 295.7 L562.1 295.4 L563.2 295.1 L564.4 294.8 L565.6 294.5 L566.8 294.3 L567.9 294.0 L569.1 293.7 L570.3 293.4 L571.5 293.2 L572.7 292.9 L573.9 292.6 L575.0 292.4 L576.2 292.1 L577.4 291.9 L578.6 291.6 L579.8 291.4 L581.0 291.1 L582.1 290.9 L583.3 290.6 L584.5 290.3 L585.7 290.0 L586.8 289.7 L588.0 289.4 L589.2 289.1 L590.3 288.7 L591.5 288.4 L592.6 288.0 L593.7 287.6 L594.9 287.1 L596.0 286.6 L597.1 286.1"/>
<g id="blob" fill="#000" shape-rendering="crispEdges"><rect x="164" y="45" width="1" height="6"/><rect x="238" y="376" width="19" height="1"/><rect x="165" y="56" width="1" height="8"/></g>
<!-- labels -->
<text font-size="33" transform="translate(58.5 42) scale(0.96 0.975)">U</text><text font-size="33" transform="translate(82.4 42) scale(0.955 1)">n</text><text font-size="33" x="100.6" y="42">p</text>
<text font-size="33" transform="translate(25.6 381) scale(0.96 0.975)">U</text><text font-size="33" transform="translate(49.4 381) scale(0.955 1)">n</text><text font-size="33" x="67.9" y="381">p</text>
<text class="s" font-size="20" transform="translate(84.50 386.70) scale(0.960 1)">m</text><text class="s" font-size="20" transform="translate(100.96 386.70) scale(0.800 1)">i</text><text class="s" font-size="20" transform="translate(104.35 386.70) scale(1.200 1)">n</text>
<text font-size="33" y="468"><tspan x="215.3">(</tspan><tspan x="226.9">p</tspan><tspan x="244.3">L</tspan><tspan x="264">)</tspan></text>
<text class="s" font-size="20" transform="translate(275.50 474.80) scale(0.960 1)">m</text><text class="s" font-size="20" transform="translate(292.96 474.80) scale(0.800 1)">i</text><text class="s" font-size="20" transform="translate(296.35 474.80) scale(1.200 1)">n</text>
<text font-size="33" y="461.3"><tspan x="624.6">p</tspan><tspan x="641.6">L</tspan></text>
</svg>
</body></html>
